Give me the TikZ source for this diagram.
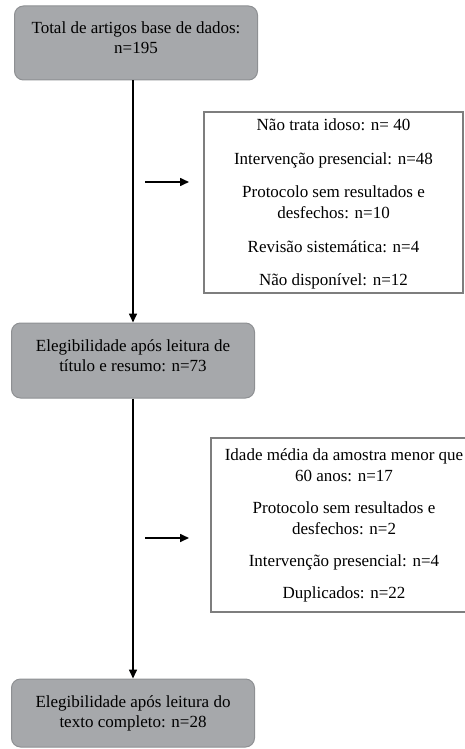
\documentclass[tikz,border=0pt]{standalone}
\usepackage{fontspec}
\setmainfont{Liberation Serif}
\usetikzlibrary{arrows.meta}
\definecolor{stagefill}{HTML}{A6A8AB}
\definecolor{stageline}{HTML}{8E9093}
\definecolor{exclline}{HTML}{7E7E7E}
\begin{document}
\begin{tikzpicture}[
    x = 1pt,
    y = -1pt,
    >={Triangle[length=9pt,width=8pt]},
    stage/.style = {draw=stageline, fill=stagefill, rounded corners=9pt,
    line width=1pt, align=center, inner sep=0pt, minimum width=243pt,
    font=\fontsize{17}{20}\selectfont},
    excl/.style = {draw=exclline, fill=white, line width=1.2pt,
    align=center, inner sep=0pt, font=\fontsize{17}{21}\selectfont},
    flow/.style = {->, line width=1.6pt},
]
\useasboundingbox (0,0) rectangle (465,749);

\node[stage, minimum height=74pt, text depth=11pt] (stage_0) at (136,43)
    {Total de artigos base de dados:\\n=195};
\node[stage, minimum height=75pt, text depth=10pt] (stage_1) at (133,360.5)
    {Elegibilidade após leitura de\\título e resumo: n=73};
\node[stage, minimum height=68pt] (stage_2) at (133,713)
    {Elegibilidade após leitura do\\texto completo: n=28};

\node[excl, minimum width=259pt, minimum height=181pt, text depth=0pt] (excl_0) at (333.5,202.5)
    {Não trata idoso: n= 40\\[12.5pt]
    Intervenção presencial: n=48\\[12.5pt]
    Protocolo sem resultados e\\desfechos: n=10\\[12.5pt]
    Revisão sistemática: n=4\\[12.5pt]
    Não disponível: n=12};
\node[excl, minimum width=266pt, minimum height=174pt] (excl_1) at (344,525)
    {Idade média da amostra menor que\\60 anos: n=17\\[11pt]
    Protocolo sem resultados e\\desfechos: n=2\\[11pt]
    Intervenção presencial: n=4\\[11pt]
    Duplicados: n=22};

\draw[flow] (stage_1.north |- stage_0.south) -- (stage_1.north);
\draw[flow] (stage_1.south) -- (stage_2.north);

\coordinate (from_0) at (145,182);
\coordinate (to_0) at (189,182);
\coordinate (from_1) at (145,538);
\coordinate (to_1) at (189,538);
\draw[flow] (from_0) -- (to_0);
\draw[flow] (from_1) -- (to_1);
\end{tikzpicture}
\end{document}
